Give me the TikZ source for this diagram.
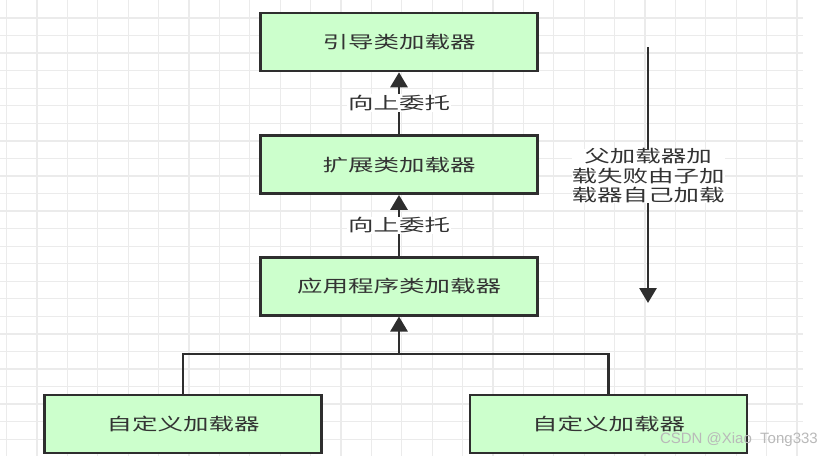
\documentclass[tikz,border=0pt]{standalone}
\usepackage{fontspec}
\setmainfont{Noto Sans CJK SC}[FakeStretch=1.5]
\newfontfamily\markfont{Liberation Sans}
\usetikzlibrary{arrows.meta,positioning}
\definecolor{LoaderGreen}{HTML}{CCFFCC}
\definecolor{EdgeGray}{HTML}{2E2E2E}
\definecolor{TextGray}{HTML}{333333}
\definecolor{GridGray}{HTML}{EBEBEB}

\begin{document}
\begin{tikzpicture}[x=1pt, y=-1pt,
  loaderbox/.style={draw=EdgeGray, line width=2.6pt, fill=LoaderGreen,
    minimum width=277pt, minimum height=58pt, inner sep=0pt, text=TextGray,
    font=\fontsize{17}{19.5}\selectfont},
  delegate/.style={-{Triangle[width=17pt,length=15pt]}, line width=2.8pt, draw=EdgeGray},
  plainline/.style={line width=2.8pt, draw=EdgeGray},
  tag/.style={fill=white, text=TextGray, inner sep=1pt, align=center,
    font=\fontsize{17}{19.5}\selectfont},
  gridline/.style={draw=GridGray, line width=1.3pt}
]
\useasboundingbox (0,0) rectangle (832,456);
\fill[white] (0,0) rectangle (832,456);
% background grid
\foreach \gx in {0,...,26}
  \draw[gridline] (6.6+30.4*\gx,0) -- (6.6+30.4*\gx,456);
\foreach \gy in {0,...,24}
  \draw[gridline] (0,18+17.55*\gy) -- (803,18+17.55*\gy);

\node[loaderbox] (boot) at (399,42) {引导类加载器};
\node[loaderbox, below=62pt of boot] (ext) {扩展类加载器};
\node[loaderbox, below=61pt of ext] (app) {应用程序类加载器};
\node[loaderbox] (customA) at (183,424) {自定义加载器};
\node[loaderbox] (customB) at (608.5,424) {自定义加载器};

\coordinate (join) at (399,354);
\draw[plainline] (customA.north) |- (join);
\draw[plainline] (customB.north) |- (join);
\draw[delegate] (join) -- (app.south);
\draw[delegate] (app.north) -- (ext.south) node[tag, midway] (upB) {向上委托};
\draw[delegate] (ext.north) -- (boot.south) node[tag, midway] (upA) {向上委托};

\coordinate (fallTop) at (648,47);
\coordinate (fallEnd) at (648,303);
\draw[delegate] (fallTop) -- (fallEnd);
\node[tag, inner sep=0pt] (fallback) at (648,176) {父加载器加\\载失败由子加\\载器自己加载};

\node[font=\markfont\fontsize{15}{15}\selectfont, text=gray!55, anchor=east, inner sep=0pt] (mark) at (818,440) {CSDN @Xiao\ \ Tong333};
\end{tikzpicture}
\end{document}
